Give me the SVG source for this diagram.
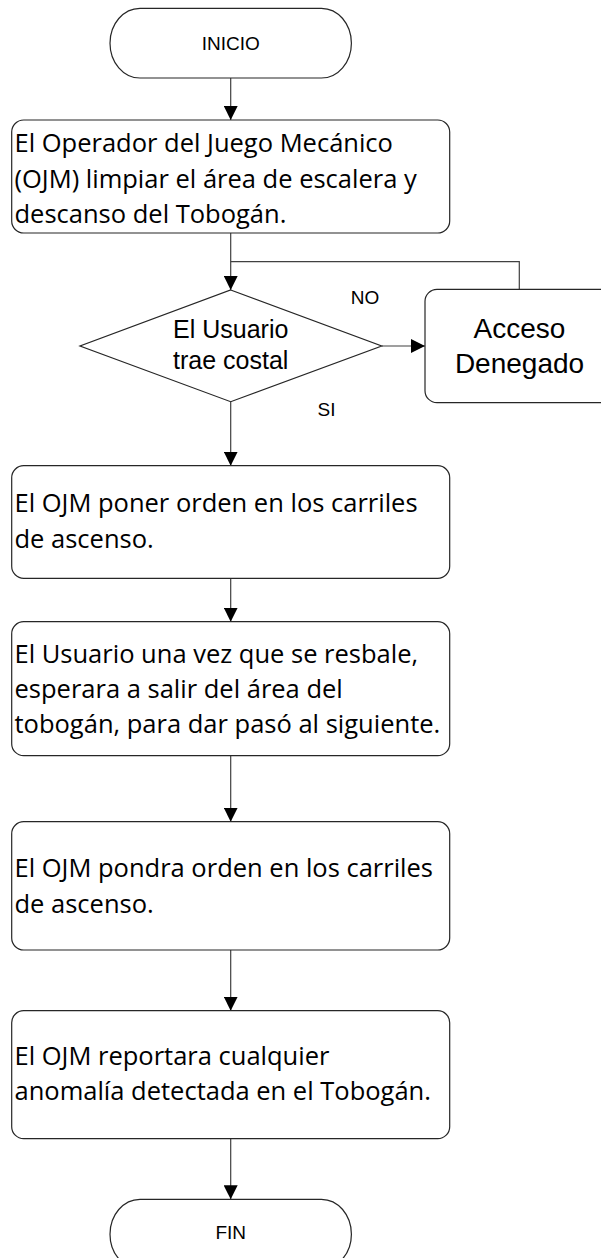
<svg xmlns="http://www.w3.org/2000/svg" width="601" height="1258" viewBox="0 0 601 1258">
<style>
.shape{fill:#fff;stroke:#262626;stroke-width:1.2}
.conn{fill:none;stroke:#404040;stroke-width:1.2}
.body{font-family:"Open Sans","Noto Sans",sans-serif;font-size:25.5px;fill:#000}
.lbl{font-family:"Liberation Sans",Arial,sans-serif;fill:#000;text-anchor:middle}
</style>
<defs>
<marker id="arr" markerUnits="userSpaceOnUse" markerWidth="14" markerHeight="14" refX="14" refY="7" orient="auto">
<path d="M0,0 L14,7 L0,14 z" fill="#000"/>
</marker>
</defs>
<rect width="601" height="1258" fill="#fff"/>
<g id="connectors">
<line class="conn" x1="230.7" y1="78" x2="230.7" y2="120" marker-end="url(#arr)"/>
<line class="conn" x1="230.7" y1="233" x2="230.7" y2="290" marker-end="url(#arr)"/>
<polyline class="conn" points="519.3,289.3 519.3,261.7 230.7,261.7"/>
<line class="conn" x1="381.7" y1="346" x2="425" y2="346" marker-end="url(#arr)"/>
<line class="conn" x1="230.7" y1="401.7" x2="230.7" y2="465.7" marker-end="url(#arr)"/>
<line class="conn" x1="230.7" y1="578.3" x2="230.7" y2="621.7" marker-end="url(#arr)"/>
<line class="conn" x1="230.7" y1="755.7" x2="230.7" y2="821.7" marker-end="url(#arr)"/>
<line class="conn" x1="230.7" y1="950" x2="230.7" y2="1010.7" marker-end="url(#arr)"/>
<line class="conn" x1="230.7" y1="1138.7" x2="230.7" y2="1199.3" marker-end="url(#arr)"/>
<text class="lbl" x="365" y="304" font-size="19">NO</text>
<text class="lbl" x="326.5" y="416" font-size="19">SI</text>
</g>
<g id="inicio">
<rect class="shape" x="110" y="8.3" width="241.4" height="69.7" rx="30" ry="34.85"/>
<text class="lbl" x="230.7" y="50" font-size="19">INICIO</text>
</g>
<g id="paso1">
<rect class="shape" x="11.7" y="120" width="438" height="113" rx="12"/>
<text class="body"><tspan x="14.5" y="152">El Operador del Juego Mecánico</tspan><tspan x="14.5" y="188">(OJM) limpiar el área de escalera y</tspan><tspan x="14.5" y="223">descanso del Tobogán.</tspan></text>
</g>
<g id="decision">
<polygon class="shape" points="230.7,290 381.7,346 230.7,401.7 80,346"/>
<text class="lbl" font-size="25"><tspan x="230.7" y="338">El Usuario</tspan><tspan x="230.7" y="369">trae costal</tspan></text>
</g>
<g id="acceso-denegado">
<rect class="shape" x="425" y="289.3" width="188" height="113.4" rx="12"/>
<text class="lbl" font-size="28"><tspan x="519.5" y="338">Acceso</tspan><tspan x="519.5" y="373">Denegado</tspan></text>
</g>
<g id="paso2">
<rect class="shape" x="11.7" y="465.7" width="438" height="112.6" rx="12"/>
<text class="body"><tspan x="14.5" y="512">El OJM poner orden en los carriles</tspan><tspan x="14.5" y="548">de ascenso.</tspan></text>
</g>
<g id="paso3">
<rect class="shape" x="11.7" y="621.7" width="438" height="134" rx="12"/>
<text class="body"><tspan x="14.5" y="663">El Usuario una vez que se resbale,</tspan><tspan x="14.5" y="698">esperara a salir del área del</tspan><tspan x="14.5" y="733">tobogán, para dar pasó al siguiente.</tspan></text>
</g>
<g id="paso4">
<rect class="shape" x="11.7" y="821.7" width="438" height="128.3" rx="12"/>
<text class="body"><tspan x="14.5" y="877">El OJM pondra orden en los carriles</tspan><tspan x="14.5" y="913">de ascenso.</tspan></text>
</g>
<g id="paso5">
<rect class="shape" x="11.7" y="1010.7" width="438" height="128" rx="12"/>
<text class="body"><tspan x="14.5" y="1065">El OJM reportara cualquier</tspan><tspan x="14.5" y="1100">anomalía detectada en el Tobogán.</tspan></text>
</g>
<g id="fin">
<rect class="shape" x="110" y="1199.3" width="241.4" height="69.7" rx="30" ry="34.85"/>
<text class="lbl" x="230.7" y="1238.5" font-size="19">FIN</text>
</g>
</svg>
